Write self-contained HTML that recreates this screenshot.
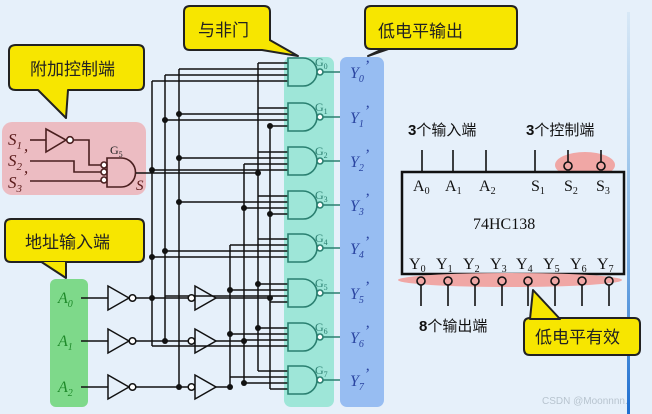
<!DOCTYPE html>
<html><head><meta charset="utf-8"><style>
html,body{margin:0;padding:0;width:652px;height:414px;overflow:hidden;background:#e6f0fa}
svg{display:block}
.cn{font-family:"Liberation Sans","Noto Sans CJK SC",sans-serif;}
.it{font-family:"Liberation Serif",serif;font-style:italic;}
.sr{font-family:"Liberation Serif",serif;}
</style></head><body>
<svg width="652" height="414" viewBox="0 0 652 414" xmlns="http://www.w3.org/2000/svg">
<defs><linearGradient id="bl" x1="0" y1="0" x2="0" y2="1"><stop offset="0" stop-color="#d8e8f6"/><stop offset="0.5" stop-color="#8fbde8"/><stop offset="1" stop-color="#1f6fd0"/></linearGradient></defs>
<rect width="652" height="414" fill="#e6f0fa"/>
<rect x="627" y="12" width="3" height="402" fill="url(#bl)"/>

<!-- colored panels -->
<rect x="2" y="122" width="144" height="73" rx="10" fill="#ecbcc2"/>
<rect x="50" y="279" width="38" height="128" rx="6" fill="#7ed98a"/>
<rect x="284" y="57" width="50" height="350" rx="7" fill="#9ee6d8"/>
<rect x="340" y="57" width="44" height="350" rx="7" fill="#97bdf2"/>

<!-- control logic -->
<g stroke="#4a1f1f" stroke-width="1.6" fill="none">
<line x1="30" y1="140" x2="46" y2="140"/>
<path d="M46,129 L66,140 L46,152 Z"/>
<circle cx="70" cy="140" r="3.3" fill="#fff"/>
<polyline points="73,140 89,140 89,165 101,165"/>
<polyline points="30,161 74,161 74,172 101,172"/>
<line x1="30" y1="181" x2="101" y2="181"/>
<circle cx="104" cy="165" r="3" fill="#fff"/>
<circle cx="104" cy="172" r="3" fill="#fff"/>
<circle cx="104" cy="180" r="3" fill="#fff"/>
<path d="M107,158 h14 a14.5,14.5 0 0 1 0,29 h-14 z"/>
</g>
<g class="it" fill="#5a1a1a" font-size="17">
<text x="8" y="145">S<tspan font-size="11" dy="4">1</tspan></text>
<text x="8" y="166">S<tspan font-size="11" dy="4">2</tspan><tspan dy="-10">’</tspan></text>
<text x="8" y="188">S<tspan font-size="11" dy="4">3</tspan><tspan dy="-10">’</tspan></text>
<text x="136" y="190" font-size="15">S</text>
</g>
<text x="110" y="154" class="sr" font-size="12" fill="#222">G<tspan font-size="8" dy="3">5</tspan></text>

<!-- wiring -->
<g stroke="#111" stroke-width="1.5" fill="none">
<line x1="136" y1="173" x2="258" y2="173"/>
<!-- verticals -->
<line x1="152" y1="81" x2="152" y2="346"/>
<line x1="165" y1="75" x2="165" y2="341"/>
<line x1="179" y1="69" x2="179" y2="387"/>
<line x1="230" y1="245" x2="230" y2="387"/>
<line x1="244" y1="164" x2="244" y2="383"/>
<line x1="258" y1="63" x2="258" y2="371"/>
<line x1="270" y1="126" x2="270" y2="389"/>
<!-- inputs -->
<line x1="81" y1="298" x2="108" y2="298"/>
<line x1="81" y1="341" x2="108" y2="341"/>
<line x1="81" y1="387" x2="108" y2="387"/>
<line x1="136" y1="298" x2="188" y2="298"/>
<line x1="136" y1="341" x2="188" y2="341"/>
<line x1="136" y1="387" x2="188" y2="387"/>
<line x1="216" y1="298" x2="270" y2="298"/>
<line x1="216" y1="341" x2="244" y2="341"/>
<line x1="216" y1="387" x2="230" y2="387"/>
<!-- gate inputs -->
<line x1="258" y1="63" x2="288" y2="63"/><line x1="179" y1="69" x2="288" y2="69"/><line x1="165" y1="75" x2="288" y2="75"/><line x1="152" y1="81" x2="288" y2="81"/>
<line x1="258" y1="108" x2="288" y2="108"/><line x1="179" y1="114" x2="288" y2="114"/><line x1="165" y1="120" x2="288" y2="120"/><line x1="270" y1="126" x2="288" y2="126"/>
<line x1="258" y1="152" x2="288" y2="152"/><line x1="179" y1="158" x2="288" y2="158"/><line x1="244" y1="164" x2="288" y2="164"/><line x1="152" y1="170" x2="288" y2="170"/>
<line x1="258" y1="196" x2="288" y2="196"/><line x1="179" y1="202" x2="288" y2="202"/><line x1="244" y1="208" x2="288" y2="208"/><line x1="270" y1="214" x2="288" y2="214"/>
<line x1="258" y1="239" x2="288" y2="239"/><line x1="230" y1="245" x2="288" y2="245"/><line x1="165" y1="251" x2="288" y2="251"/><line x1="152" y1="257" x2="288" y2="257"/>
<line x1="258" y1="284" x2="288" y2="284"/><line x1="230" y1="290" x2="288" y2="290"/><line x1="165" y1="296" x2="288" y2="296"/><line x1="270" y1="302" x2="288" y2="302"/>
<line x1="258" y1="328" x2="288" y2="328"/><line x1="230" y1="334" x2="288" y2="334"/><line x1="244" y1="340" x2="288" y2="340"/><line x1="152" y1="346" x2="288" y2="346"/>
<line x1="258" y1="371" x2="288" y2="371"/><line x1="230" y1="377" x2="288" y2="377"/><line x1="244" y1="383" x2="288" y2="383"/><line x1="270" y1="389" x2="288" y2="389"/>
<!-- inverters -->
<path d="M108,286 L129,298 L108,310 Z"/><circle cx="132.5" cy="298" r="3.3" fill="#fff"/>
<path d="M108,329 L129,341 L108,353 Z"/><circle cx="132.5" cy="341" r="3.3" fill="#fff"/>
<path d="M108,375 L129,387 L108,399 Z"/><circle cx="132.5" cy="387" r="3.3" fill="#fff"/>
<path d="M195,286 L216,298 L195,310 Z"/><circle cx="191.5" cy="298" r="3.3" fill="#fff"/>
<path d="M195,329 L216,341 L195,353 Z"/><circle cx="191.5" cy="341" r="3.3" fill="#fff"/>
<path d="M195,375 L216,387 L195,399 Z"/><circle cx="191.5" cy="387" r="3.3" fill="#fff"/>
</g>
<g fill="#111">
<circle cx="152" cy="298" r="3"/><circle cx="165" cy="341" r="3"/><circle cx="179" cy="387" r="3"/>
<circle cx="270" cy="298" r="3"/><circle cx="244" cy="341" r="3"/><circle cx="230" cy="387" r="3"/>
<circle cx="258" cy="173" r="3"/><circle cx="152" cy="170" r="3"/><circle cx="165" cy="120" r="3"/><circle cx="179" cy="114" r="3"/>
<circle cx="179" cy="158" r="3"/><circle cx="244" cy="208" r="3"/><circle cx="270" cy="214" r="3"/><circle cx="165" cy="251" r="3"/>
<circle cx="152" cy="257" r="3"/><circle cx="230" cy="290" r="3"/><circle cx="230" cy="334" r="3"/><circle cx="244" cy="383" r="3"/>
<circle cx="258" cy="284" r="3"/><circle cx="258" cy="328" r="3"/><circle cx="270" cy="126" r="3"/><circle cx="179" cy="202" r="3"/>
</g>

<!-- gates -->
<g stroke="#2a7f70" stroke-width="1.6" fill="none">
<path d="M288,58 h15 a14,14 0 0 1 0,28 h-15 z"/><circle cx="320" cy="72" r="3" fill="#fff"/><line x1="323" y1="72" x2="340" y2="72"/>
<path d="M288,103 h15 a14,14 0 0 1 0,28 h-15 z"/><circle cx="320" cy="117" r="3" fill="#fff"/><line x1="323" y1="117" x2="340" y2="117"/>
<path d="M288,147 h15 a14,14 0 0 1 0,28 h-15 z"/><circle cx="320" cy="161" r="3" fill="#fff"/><line x1="323" y1="161" x2="340" y2="161"/>
<path d="M288,191 h15 a14,14 0 0 1 0,28 h-15 z"/><circle cx="320" cy="205" r="3" fill="#fff"/><line x1="323" y1="205" x2="340" y2="205"/>
<path d="M288,234 h15 a14,14 0 0 1 0,28 h-15 z"/><circle cx="320" cy="248" r="3" fill="#fff"/><line x1="323" y1="248" x2="340" y2="248"/>
<path d="M288,279 h15 a14,14 0 0 1 0,28 h-15 z"/><circle cx="320" cy="293" r="3" fill="#fff"/><line x1="323" y1="293" x2="340" y2="293"/>
<path d="M288,323 h15 a14,14 0 0 1 0,28 h-15 z"/><circle cx="320" cy="337" r="3" fill="#fff"/><line x1="323" y1="337" x2="340" y2="337"/>
<path d="M288,366 h15 a14,14 0 0 1 0,28 h-15 z"/><circle cx="320" cy="380" r="3" fill="#fff"/><line x1="323" y1="380" x2="340" y2="380"/>
</g>
<g class="sr" font-size="12" fill="#2a7f70">
<text x="315" y="66">G<tspan font-size="8" dy="3">0</tspan></text>
<text x="315" y="111">G<tspan font-size="8" dy="3">1</tspan></text>
<text x="315" y="155">G<tspan font-size="8" dy="3">2</tspan></text>
<text x="315" y="199">G<tspan font-size="8" dy="3">3</tspan></text>
<text x="315" y="242">G<tspan font-size="8" dy="3">4</tspan></text>
<text x="315" y="287">G<tspan font-size="8" dy="3">5</tspan></text>
<text x="315" y="331">G<tspan font-size="8" dy="3">6</tspan></text>
<text x="315" y="374">G<tspan font-size="8" dy="3">7</tspan></text>
</g>
<g class="it" font-size="16" fill="#2a44a0">
<text x="350" y="78">Y<tspan font-size="10" dy="4">0</tspan><tspan dy="-11">’</tspan></text>
<text x="350" y="123">Y<tspan font-size="10" dy="4">1</tspan><tspan dy="-11">’</tspan></text>
<text x="350" y="167">Y<tspan font-size="10" dy="4">2</tspan><tspan dy="-11">’</tspan></text>
<text x="350" y="211">Y<tspan font-size="10" dy="4">3</tspan><tspan dy="-11">’</tspan></text>
<text x="350" y="254">Y<tspan font-size="10" dy="4">4</tspan><tspan dy="-11">’</tspan></text>
<text x="350" y="299">Y<tspan font-size="10" dy="4">5</tspan><tspan dy="-11">’</tspan></text>
<text x="350" y="343">Y<tspan font-size="10" dy="4">6</tspan><tspan dy="-11">’</tspan></text>
<text x="350" y="386">Y<tspan font-size="10" dy="4">7</tspan><tspan dy="-11">’</tspan></text>
</g>
<g class="it" font-size="16" fill="#1f8a2a">
<text x="58" y="303">A<tspan font-size="10" dy="4">0</tspan></text>
<text x="58" y="346">A<tspan font-size="10" dy="4">1</tspan></text>
<text x="58" y="392">A<tspan font-size="10" dy="4">2</tspan></text>
</g>

<!-- callouts -->
<g fill="#f7e600" stroke="#222" stroke-width="2" stroke-linejoin="round">
<path d="M16,45 H138 Q144,45 144,51 V84 Q144,90 138,90 H68 L66,118 L38,90 H16 Q9,90 9,84 V51 Q9,45 16,45 Z"/>
<path d="M190,6 H264 Q270,6 270,12 V44 Q270,50 264,50 H276 L298,56 L268,48 Z" fill="none" stroke="none"/>
<path d="M190,6 H264 Q270,6 270,12 V44 Q270,50 264,50 H278 L298,56 L262,50 H190 Q184,50 184,44 V12 Q184,6 190,6 Z" stroke="none"/>
<path d="M190,6 H264 Q270,6 270,12 V44 Q270,50 264,50 H190 Q184,50 184,44 V12 Q184,6 190,6 Z"/>
<path d="M371,6 H511 Q517,6 517,12 V43 Q517,49 511,49 H371 Q365,49 365,43 V12 Q365,6 371,6 Z"/>
<path d="M11,219 H138 Q144,219 144,225 V256 Q144,262 138,262 H11 Q5,262 5,256 V225 Q5,219 11,219 Z"/>
<path d="M530,318 H634 Q640,318 640,324 V349 Q640,355 634,355 H530 Q524,355 524,349 V324 Q524,318 530,318 Z"/>
</g>
<g fill="#f7e600" stroke="#222" stroke-width="2" stroke-linejoin="round">
<path d="M256,49 L298,56 L268,39 Z"/>
<path d="M385,48 L368,56 L400,45 Z"/>
<path d="M40,261 L66,278 L66,261 Z"/>
<path d="M530,319 L533,290 L560,319 Z"/>
</g>
<g fill="#f7e600">
<rect x="250" y="36" width="19" height="13"/>
<rect x="376" y="36" width="30" height="12"/>
<rect x="38" y="250" width="30" height="11"/>
<rect x="527" y="320" width="36" height="12"/>
</g>
<g class="cn" font-size="17" fill="#222">
<text x="30" y="75">附加控制端</text>
<text x="198" y="36">与非门</text>
<text x="378" y="37">低电平输出</text>
<text x="25" y="248">地址输入端</text>
<text x="535" y="343">低电平有效</text>
</g>

<!-- chip -->
<ellipse cx="585" cy="165" rx="30" ry="13" fill="#f0a7a5"/>
<g stroke="#111" stroke-width="1.6" fill="none">
<line x1="422" y1="150" x2="422" y2="172"/>
<line x1="453" y1="150" x2="453" y2="172"/>
<line x1="486" y1="150" x2="486" y2="172"/>
<line x1="535" y1="150" x2="535" y2="172"/>
<line x1="568" y1="150" x2="568" y2="162"/>
<line x1="601" y1="150" x2="601" y2="162"/>
</g>
<rect x="402" y="172" width="222" height="102" fill="#e6f0fa" stroke="#111" stroke-width="2.5"/>
<ellipse cx="510" cy="280" rx="112" ry="7" fill="#f0a7a5"/>
<g stroke="#111" stroke-width="1.6" fill="none">
<circle cx="568" cy="166" r="4"/><circle cx="601" cy="166" r="4"/>
<g>
<circle cx="421" cy="281" r="4"/><circle cx="448" cy="281" r="4"/><circle cx="475" cy="281" r="4"/><circle cx="502" cy="281" r="4"/>
<circle cx="528" cy="281" r="4"/><circle cx="555" cy="281" r="4"/><circle cx="582" cy="281" r="4"/><circle cx="609" cy="281" r="4"/>
<line x1="421" y1="285" x2="421" y2="306"/><line x1="448" y1="285" x2="448" y2="306"/><line x1="475" y1="285" x2="475" y2="306"/><line x1="502" y1="285" x2="502" y2="306"/>
<line x1="528" y1="285" x2="528" y2="306"/><line x1="555" y1="285" x2="555" y2="306"/><line x1="582" y1="285" x2="582" y2="306"/><line x1="609" y1="285" x2="609" y2="306"/>
</g>
</g>
<g class="sr" font-size="16" fill="#111">
<text x="413" y="191">A<tspan font-size="10" dy="3">0</tspan></text>
<text x="445" y="191">A<tspan font-size="10" dy="3">1</tspan></text>
<text x="479" y="191">A<tspan font-size="10" dy="3">2</tspan></text>
<text x="531" y="191">S<tspan font-size="10" dy="3">1</tspan></text>
<text x="564" y="191">S<tspan font-size="10" dy="3">2</tspan></text>
<text x="596" y="191">S<tspan font-size="10" dy="3">3</tspan></text>
<text x="473" y="229">74HC138</text>
<text x="409" y="269">Y<tspan font-size="10" dy="3">0</tspan></text>
<text x="436" y="269">Y<tspan font-size="10" dy="3">1</tspan></text>
<text x="463" y="269">Y<tspan font-size="10" dy="3">2</tspan></text>
<text x="490" y="269">Y<tspan font-size="10" dy="3">3</tspan></text>
<text x="516" y="269">Y<tspan font-size="10" dy="3">4</tspan></text>
<text x="543" y="269">Y<tspan font-size="10" dy="3">5</tspan></text>
<text x="570" y="269">Y<tspan font-size="10" dy="3">6</tspan></text>
<text x="597" y="269">Y<tspan font-size="10" dy="3">7</tspan></text>
</g>
<g class="cn" font-size="15" fill="#111">
<text x="408" y="135"><tspan font-weight="bold">3</tspan>个输入端</text>
<text x="526" y="135"><tspan font-weight="bold">3</tspan>个控制端</text>
<text x="419" y="331"><tspan font-weight="bold">8</tspan>个输出端</text>
</g>
<text x="542" y="404" class="cn" font-size="10" fill="#b8c4cf">CSDN @Moonnnn.</text>
</svg>
</body></html>
